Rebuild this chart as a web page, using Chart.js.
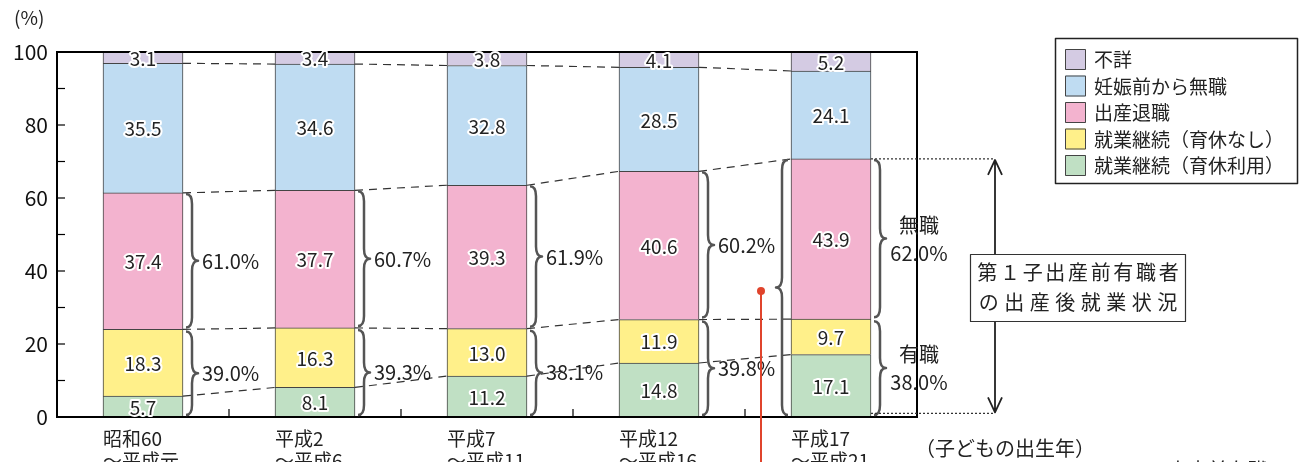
<!DOCTYPE html>
<html>
<head>
<meta charset="utf-8">
<script src="https://cdn.jsdelivr.net/npm/chart.js@4"></script>
<style>
  html, body { margin: 0; padding: 0; background: #fff; }
  canvas { display: block; }
</style>
</head>
<body>
<canvas id="employ-canvas" width="1300" height="462"></canvas>
<script>
"use strict";

var FONT = '"Noto Sans CJK JP", "Noto Sans", sans-serif';

// categories (child's birth years)
var periods = [
	['昭和60', '～平成元'],
	['平成2', '～平成6'],
	['平成7', '～平成11'],
	['平成12', '～平成16'],
	['平成17', '～平成21']
];

// series values (%), bottom of stack first
var ikukyuRiyou = [5.7, 8.1, 11.2, 14.8, 17.1];
var ikukyuNashi = [18.3, 16.3, 13.0, 11.9, 9.7];
var shussanTaishoku = [37.4, 37.7, 39.3, 40.6, 43.9];
var ninshinMaeMushoku = [35.5, 34.6, 32.8, 28.5, 24.1];
var fushou = [3.1, 3.4, 3.8, 4.1, 5.2];

// brace labels: share of mothers employed before first birth
var quitShare = ['61.0%', '60.7%', '61.9%', '60.2%', '62.0%'];
var keepShare = ['39.0%', '39.3%', '38.1%', '39.8%', '38.0%'];

var yTicks = [0, 20, 40, 60, 80, 100];

var series = [
	{ label: '就業継続（育休利用）', data: ikukyuRiyou, color: '#c0e0c4' },
	{ label: '就業継続（育休なし）', data: ikukyuNashi, color: '#fff08a' },
	{ label: '出産退職', data: shussanTaishoku, color: '#f3b3cf' },
	{ label: '妊娠前から無職', data: ninshinMaeMushoku, color: '#bfdcf2' },
	{ label: '不詳', data: fushou, color: '#d4cbe3' }
];

function brace(ctx, x0, y1, y2, w) {
	// w > 0 points right, w < 0 points left
	var ym = (y1 + y2) / 2;
	var r = Math.min(10, (y2 - y1) / 4);
	var xm = x0 + w / 2;
	ctx.beginPath();
	ctx.moveTo(x0, y1);
	ctx.quadraticCurveTo(xm, y1, xm, y1 + r);
	ctx.lineTo(xm, ym - r);
	ctx.quadraticCurveTo(xm, ym, x0 + w, ym);
	ctx.quadraticCurveTo(xm, ym, xm, ym + r);
	ctx.lineTo(xm, y2 - r);
	ctx.quadraticCurveTo(xm, y2, x0, y2);
	ctx.stroke();
}

function spacedText(ctx, text, x1, x2, y) {
	var chars = text.split('');
	var step = (x2 - x1) / chars.length;
	for (var i = 0; i < chars.length; i++) {
		ctx.fillText(chars[i], x1 + step * (i + 0.5), y);
	}
}

var decorPlugin = {
	id: 'decor',
	afterDatasetsDraw: function (chart) {
		var ctx = chart.ctx;
		var area = chart.chartArea;
		var y = chart.scales.y;
		var n = periods.length;
		var metas = series.map(function (s, i) { return chart.getDatasetMeta(i); });
		var bars = metas[0].data;

		ctx.save();

		// dashed connectors between bars at each stack boundary
		ctx.strokeStyle = '#333';
		ctx.lineWidth = 1.2;
		ctx.setLineDash([8, 6]);
		for (var k = 0; k < 4; k++) {
			for (var j = 0; j < n - 1; j++) {
				var a = metas[k].data[j], b = metas[k].data[j + 1];
				ctx.beginPath();
				ctx.moveTo(a.x + a.width / 2, a.y);
				ctx.lineTo(b.x - b.width / 2, b.y);
				ctx.stroke();
			}
		}
		ctx.setLineDash([]);

		// frame
		ctx.strokeStyle = '#000';
		ctx.lineWidth = 2;
		ctx.strokeRect(area.left, area.top, area.right - area.left, area.bottom - area.top);

		// inward ticks
		ctx.lineWidth = 1.2;
		for (var v = 10; v < 100; v += 10) {
			ctx.beginPath();
			ctx.moveTo(area.left, y.getPixelForValue(v));
			ctx.lineTo(area.left + 8, y.getPixelForValue(v));
			ctx.stroke();
		}
		for (var j2 = 0; j2 < n - 1; j2++) {
			var xb = (bars[j2].x + bars[j2 + 1].x) / 2;
			ctx.beginPath();
			ctx.moveTo(xb, area.bottom);
			ctx.lineTo(xb, area.bottom - 8);
			ctx.stroke();
		}

		// value labels inside segments
		ctx.font = '19px ' + FONT;
		ctx.textAlign = 'center';
		ctx.textBaseline = 'middle';
		ctx.lineJoin = 'round';
		metas.forEach(function (meta, i) {
			meta.data.forEach(function (bar, j) {
				var ty = (bar.y + bar.base) / 2 + 1;
				var txt = series[i].data[j].toFixed(1);
				ctx.strokeStyle = '#fff';
				ctx.lineWidth = 4;
				ctx.strokeText(txt, bar.x, ty);
				ctx.fillStyle = '#222';
				ctx.fillText(txt, bar.x, ty);
			});
		});

		// braces
		ctx.strokeStyle = '#555';
		ctx.lineWidth = 2.5;
		ctx.font = '20px ' + FONT;
		ctx.fillStyle = '#222';
		for (var j3 = 0; j3 < n; j3++) {
			var pinkTop = metas[2].data[j3].y;
			var yellowTop = metas[1].data[j3].y;
			var zero = y.getPixelForValue(0);
			var bx = bars[j3].x + bars[j3].width / 2 + 3;
			brace(ctx, bx, pinkTop + 1, yellowTop - 2, 12);
			brace(ctx, bx, yellowTop + 2, zero - 2, 12);
			if (j3 < n - 1) {
				ctx.textAlign = 'left';
				ctx.fillText(quitShare[j3], bx + 16, (pinkTop + yellowTop) / 2);
				ctx.fillText(keepShare[j3], bx + 16, (yellowTop + zero) / 2);
			} else {
				ctx.textAlign = 'center';
				var cx = bx + 45;
				var m1 = (pinkTop + yellowTop) / 2, m2 = (yellowTop + zero) / 2;
				ctx.fillText('無職', cx, m1 - 14);
				ctx.fillText(quitShare[j3], cx, m1 + 14);
				ctx.fillText('有職', cx, m2 - 14);
				ctx.fillText(keepShare[j3], cx, m2 + 14);
				// big left brace over all employed-before-birth
				brace(ctx, bars[j3].x - bars[j3].width / 2 - 3, pinkTop + 1, zero - 2, -12);

				// dotted guides and double arrow
				var x1 = bars[j3].x + bars[j3].width / 2;
				var ax = 995;
				var yb = y.getPixelForValue(1);
				ctx.strokeStyle = '#333';
				ctx.lineWidth = 1.3;
				ctx.setLineDash([2, 2]);
				ctx.beginPath();
				ctx.moveTo(x1, pinkTop); ctx.lineTo(ax, pinkTop);
				ctx.moveTo(x1, yb); ctx.lineTo(ax, yb);
				ctx.stroke();
				ctx.setLineDash([]);
				ctx.strokeStyle = '#222';
				ctx.lineWidth = 1.8;
				ctx.beginPath();
				ctx.moveTo(ax, pinkTop + 1); ctx.lineTo(ax, yb - 1);
				ctx.moveTo(ax - 7, pinkTop + 16); ctx.lineTo(ax, pinkTop + 1); ctx.lineTo(ax + 7, pinkTop + 16);
				ctx.moveTo(ax - 7, yb - 16); ctx.lineTo(ax, yb - 1); ctx.lineTo(ax + 7, yb - 16);
				ctx.stroke();

				// caption box
				ctx.fillStyle = '#fff';
				ctx.fillRect(970, 254, 215, 67);
				ctx.strokeStyle = '#333';
				ctx.lineWidth = 1.2;
				ctx.strokeRect(970.5, 254.5, 215, 67);
				ctx.fillStyle = '#222';
				ctx.font = '20px ' + FONT;
				spacedText(ctx, '第１子出産前有職者', 976, 1180, 272);
				spacedText(ctx, 'の出産後就業状況', 976, 1180, 302);

				// red marker line
				var rx = bars[j3].x - 70;
				var ry = y.getPixelForValue(34.5);
				ctx.strokeStyle = '#e0442c';
				ctx.fillStyle = '#e0442c';
				ctx.lineWidth = 2;
				ctx.beginPath();
				ctx.moveTo(rx, ry); ctx.lineTo(rx, 470);
				ctx.stroke();
				ctx.beginPath();
				ctx.arc(rx, ry, 4, 0, Math.PI * 2);
				ctx.fill();
			}
		}

		// legend
		ctx.fillStyle = '#fff';
		ctx.fillRect(1055, 38, 243, 145);
		ctx.strokeStyle = '#222';
		ctx.lineWidth = 1.5;
		ctx.strokeRect(1055.5, 38.5, 242, 145);
		ctx.font = '19px ' + FONT;
		ctx.textAlign = 'left';
		ctx.textBaseline = 'middle';
		for (var li = 0; li < series.length; li++) {
			var s = series[series.length - 1 - li];
			var ly = 59 + li * 26.5;
			ctx.fillStyle = s.color;
			ctx.fillRect(1065, ly - 10, 21, 21);
			ctx.strokeStyle = '#444';
			ctx.lineWidth = 1;
			ctx.strokeRect(1065.5, ly - 9.5, 20, 20);
			ctx.fillStyle = '#222';
			ctx.fillText(s.label, 1094, ly + 1);
		}

		// loose texts
		ctx.fillStyle = '#222';
		ctx.font = '19px ' + FONT;
		ctx.fillText('(%)', 14, 18);
		ctx.font = '20px ' + FONT;
		ctx.fillText('（子どもの出生年）', 915, 448);
		ctx.fillText('出産前有職', 1168, 470);

		ctx.restore();
	}
};

var ctx = document.getElementById('employ-canvas').getContext('2d');

var employChart = new Chart(ctx, {
	type: 'bar',
	data: {
		labels: periods,
		datasets: series.map(function (s) {
			return {
				label: s.label,
				data: s.data,
				backgroundColor: s.color,
				borderColor: '#444',
				borderWidth: 1,
				barThickness: 80
			};
		})
	},
	options: {
		responsive: false,
		animation: false,
		devicePixelRatio: 1,
		layout: { padding: { left: 0, top: 52, right: 383, bottom: 0 } },
		plugins: {
			legend: { display: false },
			tooltip: { enabled: false }
		},
		scales: {
			x: {
				stacked: true,
				grid: { display: false, drawTicks: false },
				border: { display: false },
				afterFit: function (scale) { scale.height = 45; },
				ticks: {
					align: 'start',
					labelOffset: -40,
					padding: 10,
					color: '#222',
					font: { family: FONT, size: 19, lineHeight: 1.2 }
				}
			},
			y: {
				stacked: true,
				min: 0,
				max: 100,
				afterFit: function (scale) { scale.width = 57; },
				afterBuildTicks: function (scale) {
					scale.ticks = yTicks.map(function (v) { return { value: v }; });
				},
				grid: { display: false, drawTicks: false },
				border: { display: false },
				ticks: {
					padding: 9,
					color: '#111',
					font: { family: FONT, size: 21 }
				}
			}
		}
	},
	plugins: [decorPlugin]
});
</script>
</body>
</html>
